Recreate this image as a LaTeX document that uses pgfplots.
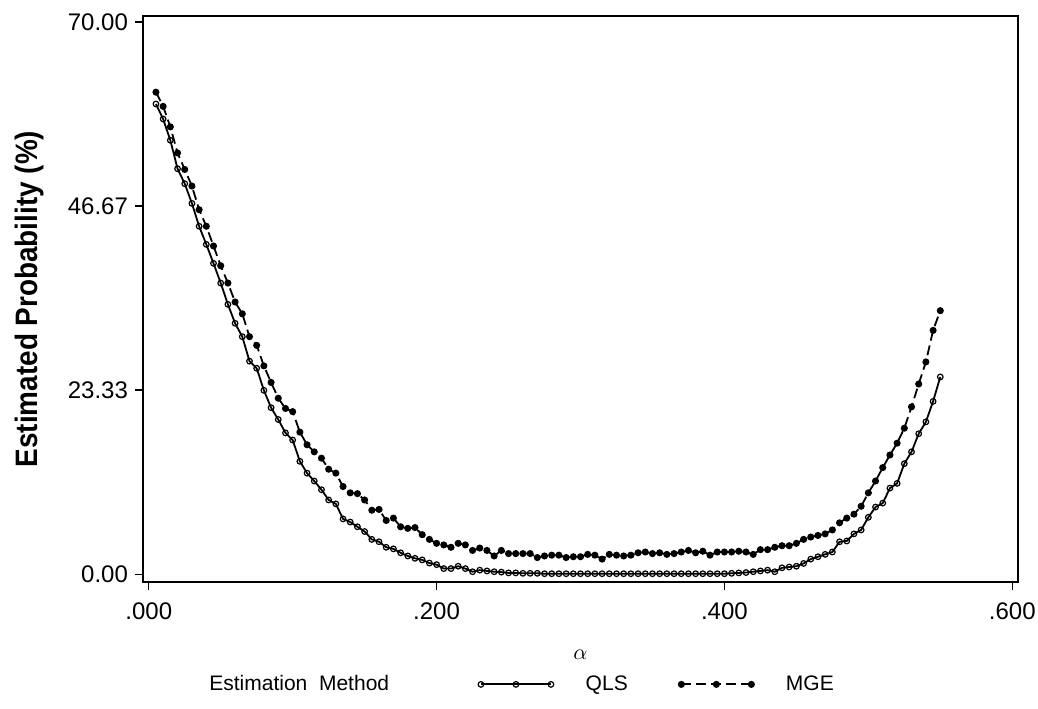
\documentclass[border=0pt]{standalone}
\usepackage{pgfplots}
\pgfplotsset{compat=1.18}
\usepackage{fontspec}
\setmainfont{Liberation Sans}
\newfontfamily\narrowfont[FakeStretch=0.9]{Liberation Sans}

% estimated probability (%) by alpha
\pgfplotstableread{
a v
0.005 59.6
0.010 57.7
0.015 55.0
0.020 51.4
0.025 49.5
0.030 47.0
0.035 44.1
0.040 41.8
0.045 39.4
0.050 36.9
0.055 34.2
0.060 31.8
0.065 30.1
0.070 27.0
0.075 26.1
0.080 23.3
0.085 21.1
0.090 19.6
0.095 17.9
0.100 17.0
0.105 14.3
0.110 12.8
0.115 11.8
0.120 10.7
0.125 9.4
0.130 8.9
0.135 7.0
0.140 6.6
0.145 6.0
0.150 5.4
0.155 4.4
0.160 4.1
0.165 3.4
0.170 3.2
0.175 2.7
0.180 2.3
0.185 2.0
0.190 1.8
0.195 1.4
0.200 1.2
0.205 0.7
0.210 0.7
0.215 1.0
0.220 0.7
0.225 0.3
0.230 0.5
0.235 0.4
0.240 0.3
0.245 0.25
0.250 0.15
0.255 0.15
0.260 0.1
0.265 0.1
0.270 0.1
0.275 0.05
0.280 0.05
0.285 0.05
0.290 0.05
0.295 0.05
0.300 0.05
0.305 0.05
0.310 0.05
0.315 0.05
0.320 0.05
0.325 0.05
0.330 0.05
0.335 0.05
0.340 0.05
0.345 0.05
0.350 0.05
0.355 0.05
0.360 0.05
0.365 0.05
0.370 0.05
0.375 0.05
0.380 0.05
0.385 0.05
0.390 0.05
0.395 0.05
0.400 0.05
0.405 0.1
0.410 0.15
0.415 0.2
0.420 0.3
0.425 0.4
0.430 0.5
0.435 0.3
0.440 0.8
0.445 0.9
0.450 1.0
0.455 1.35
0.460 1.9
0.465 2.2
0.470 2.5
0.475 2.8
0.480 4.1
0.485 4.2
0.490 5.1
0.495 5.6
0.500 7.2
0.505 8.5
0.510 9.0
0.515 10.9
0.520 11.5
0.525 14.0
0.530 15.5
0.535 17.8
0.540 19.3
0.545 21.9
0.550 25.0
}\qls

\pgfplotstableread{
a v
0.005 61.1
0.010 59.3
0.015 56.7
0.020 53.4
0.025 51.3
0.030 49.2
0.035 46.2
0.040 44.1
0.045 41.6
0.050 39.1
0.055 36.9
0.060 34.5
0.065 33.0
0.070 30.1
0.075 29.0
0.080 26.4
0.085 24.3
0.090 22.3
0.095 21.0
0.100 20.6
0.105 18.0
0.110 16.4
0.115 15.5
0.120 14.7
0.125 13.3
0.130 12.8
0.135 11.1
0.140 10.3
0.145 10.2
0.150 9.4
0.155 8.1
0.160 8.2
0.165 6.8
0.170 7.1
0.175 6.0
0.180 5.8
0.185 5.9
0.190 5.0
0.195 4.4
0.200 3.9
0.205 3.7
0.210 3.4
0.215 3.9
0.220 3.7
0.225 3.0
0.230 3.3
0.235 3.0
0.240 2.3
0.245 3.0
0.250 2.6
0.255 2.6
0.260 2.6
0.265 2.6
0.270 2.1
0.275 2.3
0.280 2.4
0.285 2.4
0.290 2.1
0.295 2.2
0.300 2.2
0.305 2.5
0.310 2.4
0.315 1.9
0.320 2.5
0.325 2.4
0.330 2.3
0.335 2.4
0.340 2.7
0.345 2.8
0.350 2.6
0.355 2.7
0.360 2.5
0.365 2.6
0.370 2.8
0.375 3.0
0.380 2.7
0.385 2.9
0.390 2.4
0.395 2.8
0.400 2.8
0.405 2.8
0.410 2.9
0.415 2.8
0.420 2.5
0.425 3.1
0.430 3.1
0.435 3.4
0.440 3.6
0.445 3.6
0.450 3.9
0.455 4.4
0.460 4.7
0.465 4.9
0.470 5.1
0.475 5.6
0.480 6.5
0.485 7.1
0.490 7.6
0.495 8.6
0.500 10.3
0.505 11.8
0.510 13.5
0.515 15.1
0.520 16.6
0.525 18.5
0.530 21.2
0.535 24.1
0.540 26.9
0.545 30.9
0.550 33.4
}\mge

\begin{document}
\begin{tikzpicture}
\begin{axis}[
    name=ax,
    scale only axis,
    width=437.5pt, height=283pt,
    xmin=-0.004, xmax=0.604,
    ymin=-1.0, ymax=70.76,
    xtick={0,0.2,0.4,0.6},
    xticklabels={.000,.200,.400,.600},
    ytick={0,23.3333,46.6667,70},
    yticklabels={0.00,23.33,46.67,70.00},
    tick align=outside,
    xtick pos=bottom, ytick pos=left,
    major tick length=4pt,
    tick style={black, line width=0.6pt},
    axis line style={line width=0.6pt},
    /pgf/number format/assume math mode=true,
    tick label style={font=\fontsize{12}{14}\selectfont},
    xticklabel style={yshift=-3pt},
    xlabel={$\alpha$},
    xlabel style={font=\fontsize{11}{13}\selectfont, yshift=-8pt},
    ylabel={\narrowfont\bfseries Estimated Probability (\%)},
    ylabel style={font=\fontsize{15.5}{18}\selectfont, yshift=5pt},
    legend columns=3,
    legend style={draw=none, fill=none, at={(0.032,-0.15)}, anchor=north west,
        font=\fontsize{10.5}{12}\selectfont,
        /tikz/every odd column/.append style={column sep=14pt},
        /tikz/every even column/.append style={column sep=23.5pt}},
    legend image code/.code={
        \draw[mark repeat=1,#1] plot coordinates {(0pt,0pt) (17.5pt,0pt) (35pt,0pt)};},
]
\addlegendimage{empty legend}
\addlegendentry{Estimation\ \ Method\kern19pt}
\addplot[black, line width=0.9pt, mark=o, mark size=1.4pt,
    mark options={solid, line width=0.6pt}] table[x=a, y=v] {\qls};
\addlegendentry{QLS}
\addplot[black, line width=0.9pt, dash pattern=on 5pt off 2.5pt, mark=*, mark size=1.3pt,
    mark options={solid}] table[x=a, y=v] {\mge};
\addlegendentry{MGE}
\end{axis}
\pgfresetboundingbox
\path[use as bounding box] ([shift={(-71.5pt,-63.5pt)}]ax.south west)
    rectangle ([shift={(10pt,8pt)}]ax.north east);
\end{tikzpicture}
\end{document}
